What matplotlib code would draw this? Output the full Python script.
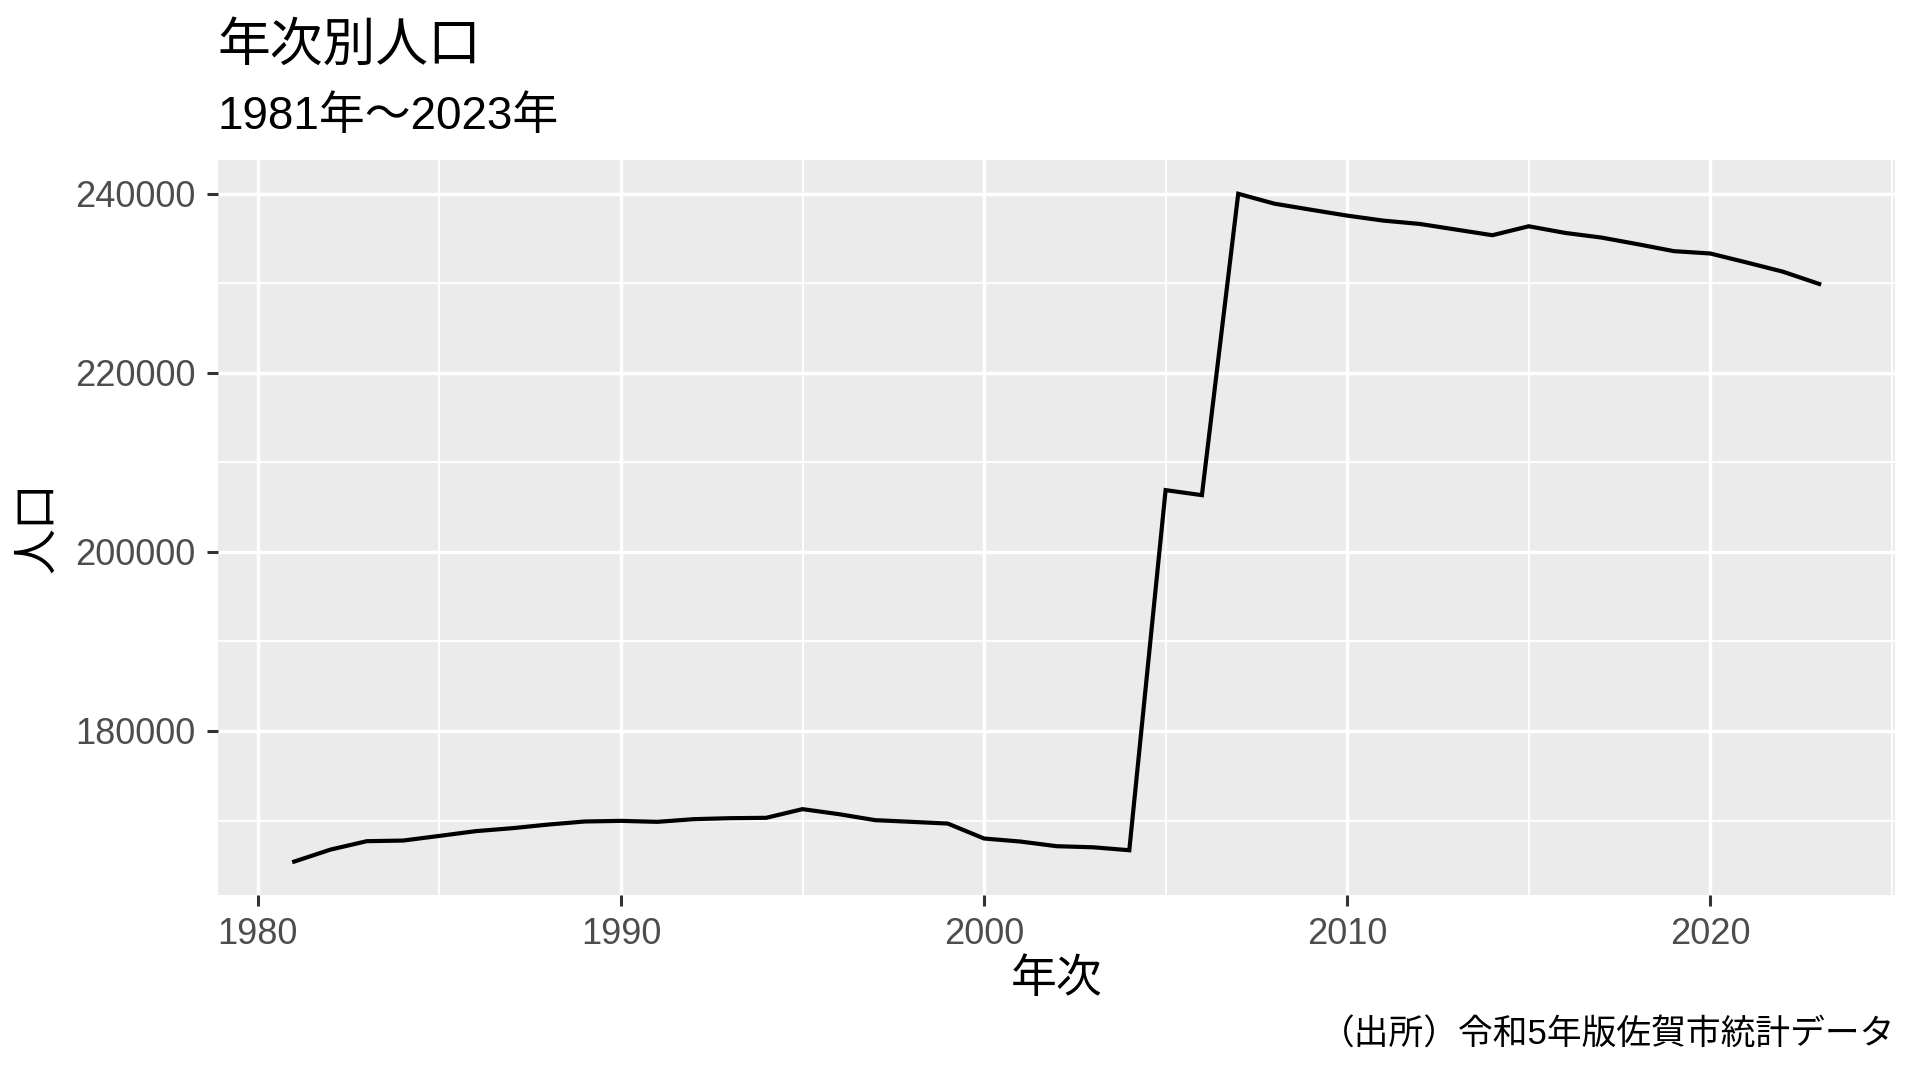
import matplotlib
matplotlib.use("Agg")
import matplotlib.pyplot as plt
from matplotlib.ticker import MultipleLocator, FixedLocator

plt.rcParams['font.family'] = ['Liberation Sans', 'Noto Sans CJK JP', 'DejaVu Sans']

# 年次と人口
years = [1981, 1982, 1983, 1984, 1985, 1986, 1987, 1988, 1989, 1990,
         1991, 1992, 1993, 1994, 1995, 1996, 1997, 1998, 1999, 2000,
         2001, 2002, 2003, 2004, 2005, 2006, 2007, 2008, 2009, 2010,
         2011, 2012, 2013, 2014, 2015, 2016, 2017, 2018, 2019, 2020,
         2021, 2022, 2023]
population = [165410, 166750, 167690, 167760, 168280, 168810, 169140, 169550, 169890, 169960,
              169850, 170150, 170260, 170300, 171270, 170710, 170040, 169850, 169660, 167990,
              167650, 167130, 167010, 166680, 206900, 206340, 240000, 238890, 238220, 237560,
              237000, 236630, 236000, 235370, 236370, 235630, 235110, 234370, 233590, 233330,
              232330, 231300, 229930]

title = "年次別人口"
subtitle = "1981年～2023年"
xlabel = "年次"
ylabel = "人口"
caption = "（出所）令和5年版佐賀市統計データ"

fig = plt.figure(figsize=(19.2, 10.8), dpi=100)
ax = fig.add_axes([0.1135, 0.1713, 0.8737, 0.6802])

ax.set_facecolor("#EBEBEB")
for s in ax.spines.values():
    s.set_visible(False)

ax.plot(years, population, color="black", linewidth=3.0, solid_joinstyle="miter")

# ggplot-style 5% expansion
xr = max(years) - min(years)
yr = max(population) - min(population)
ax.set_xlim(min(years) - 0.05 * xr, max(years) + 0.05 * xr)
ax.set_ylim(min(population) - 0.05 * yr, max(population) + 0.05 * yr)

ax.xaxis.set_major_locator(MultipleLocator(10))
ax.xaxis.set_minor_locator(FixedLocator([1985, 1995, 2005, 2015, 2025]))
ax.yaxis.set_major_locator(MultipleLocator(20000))
ax.yaxis.set_minor_locator(FixedLocator([170000, 190000, 210000, 230000]))

ax.grid(which="major", color="white", linewidth=2.5)
ax.grid(which="minor", color="white", linewidth=1.3)
ax.set_axisbelow(True)

ax.tick_params(which="major", length=8, width=2.2, color="#333333",
               labelsize=26, labelcolor="#4D4D4D", pad=8)
ax.tick_params(which="minor", length=0)
ax.yaxis.set_major_formatter(plt.FuncFormatter(lambda v, p: f"{int(v)}"))

fig.text(0.1135, 0.9563, title, fontsize=38, ha="left", va="center")
fig.text(0.1135, 0.8917, subtitle, fontsize=33, ha="left", va="center")
fig.text(0.5505, 0.0926, xlabel, fontsize=33, ha="center", va="center")
fig.text(0.0198, 0.5117, ylabel, fontsize=33, ha="center", va="center", rotation=90)
fig.text(0.987, 0.0417, caption, fontsize=25, ha="right", va="center")

fig.savefig("out.png", dpi=100)
